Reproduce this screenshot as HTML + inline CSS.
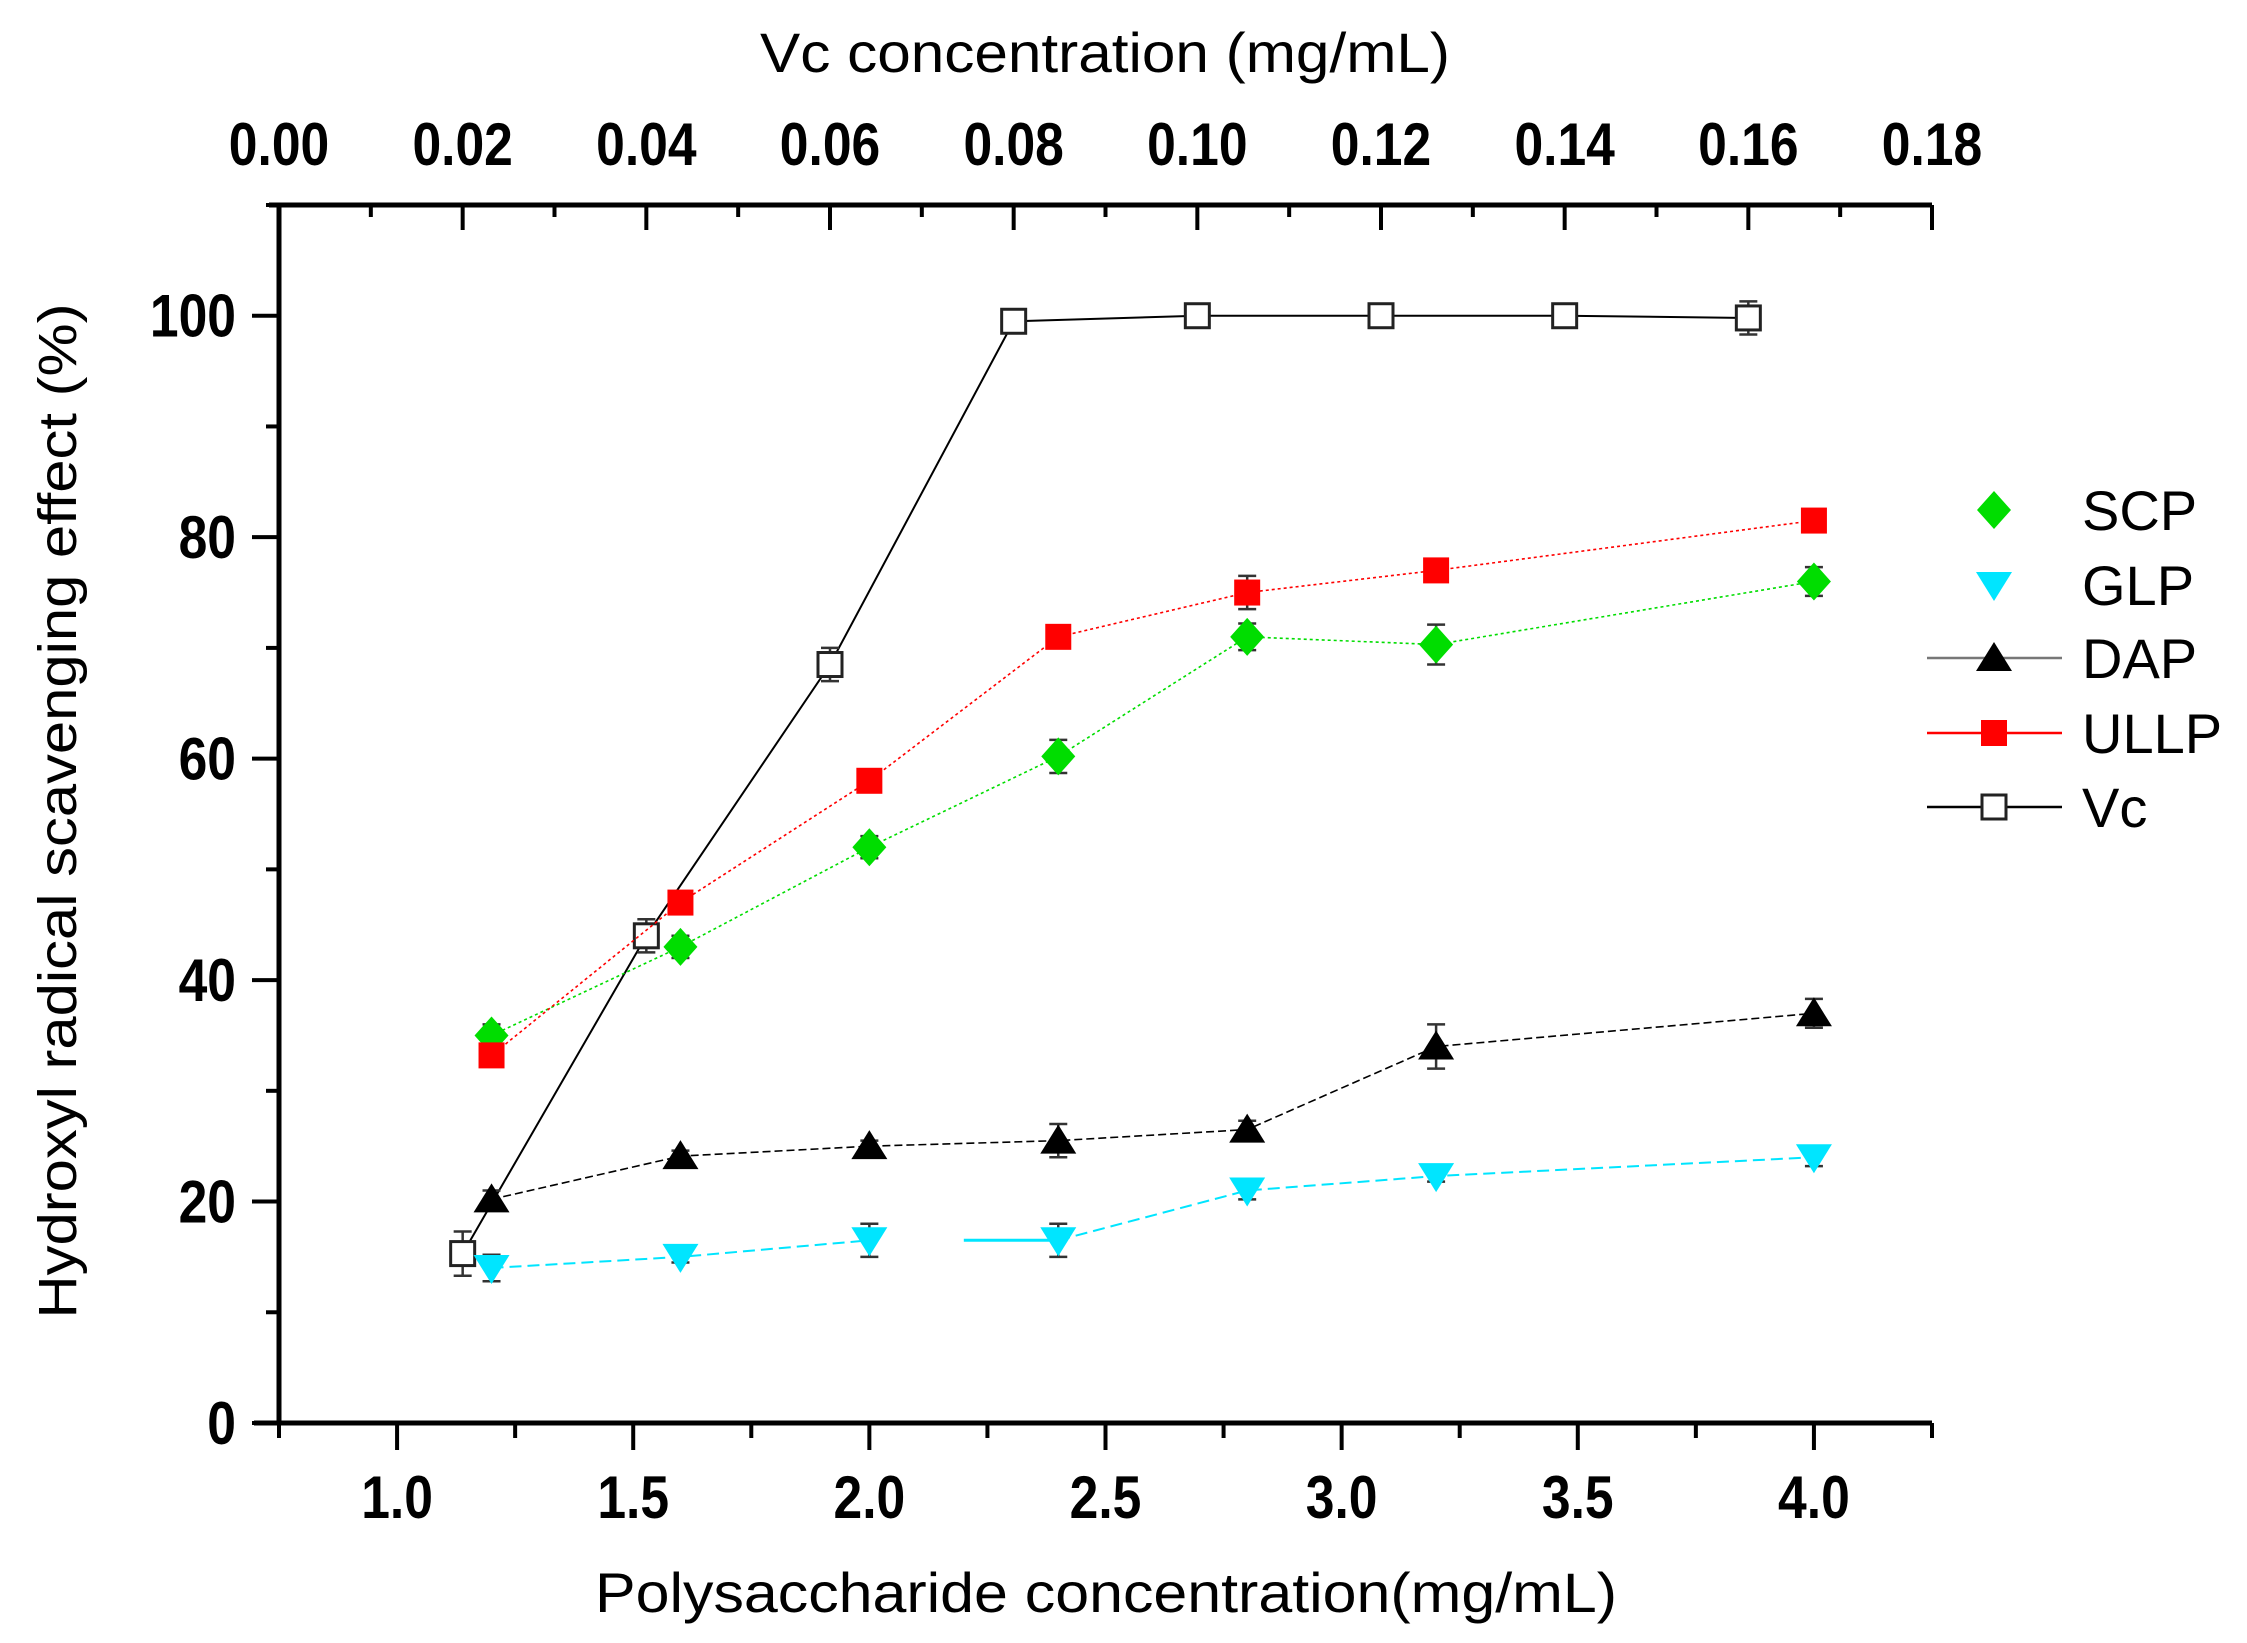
<!DOCTYPE html>
<html><head><meta charset="utf-8"><style>
html,body{margin:0;padding:0;background:#fff;}
svg{display:block;font-family:"Liberation Sans",Arial,sans-serif;}
</style></head><body>
<svg id="chart" width="2247" height="1643" viewBox="0 0 2247 1643" xmlns="http://www.w3.org/2000/svg">
<rect width="2247" height="1643" fill="#fff"/>
<g id="axes"></g>
<g id="series"></g>
<g id="legend"></g>
<text x="1105" y="72" font-size="56" text-anchor="middle" textLength="690" lengthAdjust="spacingAndGlyphs">Vc concentration (mg/mL)</text>
<text x="1106" y="1612" font-size="56" text-anchor="middle" textLength="1022" lengthAdjust="spacingAndGlyphs">Polysaccharide concentration(mg/mL)</text>
<text transform="translate(76,811) rotate(-90)" x="0" y="0" font-size="54" text-anchor="middle" textLength="1015" lengthAdjust="spacingAndGlyphs">Hydroxyl radical scavenging effect (%)</text>
</svg>
<script>
const polyX = [1.2, 1.6, 2.0, 2.4, 2.8, 3.2, 4.0];
const scpY = [35, 43, 52, 60.2, 71, 70.3, 76];
const scpErr = [1, 1, 1, 1.5, 1.2, 1.8, 1.3];
const ullpY = [33.2, 47, 58, 71, 75, 77, 81.5];
const ullpErr = [1, 0.5, 0.5, 0.5, 1.5, 0.5, 0.5];
const dapY = [20.2, 24.1, 25, 25.5, 26.5, 34, 37];
const dapErr = [0.8, 0.5, 0.5, 1.5, 0.8, 2, 1.3];
const glpY = [14, 15, 16.5, 16.5, 21, 22.3, 24];
const glpErr = [1.2, 0.5, 1.5, 1.5, 0.8, 0.5, 0.8];
const vcX = [0.02, 0.04, 0.06, 0.08, 0.10, 0.12, 0.14, 0.16];
const vcY = [15.3, 44, 68.5, 99.5, 100, 100, 100, 99.8];
const vcErr = [2, 1.5, 1.5, 0.3, 1, 1, 1, 1.5];
const bottomTicks = ["1.0","1.5","2.0","2.5","3.0","3.5","4.0"];
const topTicks = ["0.00","0.02","0.04","0.06","0.08","0.10","0.12","0.14","0.16","0.18"];
const yTicks = ["0","20","40","60","80","100"];

const L=279, R=1932, T=205, B=1423;
const xb = v => L + (v-0.75)/(4.25-0.75)*(R-L);
const xt = v => L + v/0.18*(R-L);
const y = v => B - v/110*(B-T);
const NS="http://www.w3.org/2000/svg";
function mk(parent, tag, attrs){const e=document.createElementNS(NS,tag);for(const k in attrs)e.setAttribute(k,attrs[k]);parent.appendChild(e);return e;}

const ax=document.getElementById('axes');
let e;
e=mk(ax,'line',{x1:L,y1:T-2,x2:L,y2:B+2,stroke:'#000','stroke-width':5});


e=mk(ax,'line',{x1:L-25,y1:B,x2:R,y2:B,stroke:'#000','stroke-width':5});


e=mk(ax,'line',{x1:L-10,y1:T,x2:R,y2:T,stroke:'#000','stroke-width':5});


for(let v=0;v<=110;v+=10){const major=v%20===0;
 e=mk(ax,'line',{x1:L-(major?27:13),y1:y(v),x2:L,y2:y(v),stroke:'#000','stroke-width':4});
 
 }
yTicks.forEach(t=>{e=mk(ax,'text',{x:236,y:y(+t)+21,'font-size':60,'font-weight':'bold','text-anchor':'end',transform:`translate(236,0) scale(0.86,1) translate(-236,0)`});
 e.textContent=t;
 
 });
for(let v=0.75;v<=4.2501;v+=0.25){const major=Math.abs(v*2-Math.round(v*2))<1e-6;
 e=mk(ax,'line',{x1:xb(v),y1:B,x2:xb(v),y2:B+(major?27:15),stroke:'#000','stroke-width':4});
 
 }
bottomTicks.forEach(t=>{const cx=xb(+t);e=mk(ax,'text',{x:cx,y:1518,'font-size':60,'font-weight':'bold','text-anchor':'middle',transform:`translate(${cx},0) scale(0.86,1) translate(${-cx},0)`});
 e.textContent=t;
 
 });
for(let i=0;i<=18;i++){const v=i/100;const major=i%2===0;
 e=mk(ax,'line',{x1:xt(v),y1:T,x2:xt(v),y2:T+(major?25:12),stroke:'#000','stroke-width':4});
 
 }
topTicks.forEach(t=>{const cx=xt(+t);e=mk(ax,'text',{x:cx,y:165,'font-size':60,'font-weight':'bold','text-anchor':'middle',transform:`translate(${cx},0) scale(0.86,1) translate(${-cx},0)`});
 e.textContent=t;
 
 });

const sg=document.getElementById('series');
function marker(g,kind,cx,cy,color){
 let m;
 if(kind==='diamond') m=mk(g,'polygon',{points:`${cx},${cy-19} ${cx+17},${cy} ${cx},${cy+19} ${cx-17},${cy}`,fill:color});
 else if(kind==='down') m=mk(g,'polygon',{points:`${cx-18},${cy-13} ${cx+18},${cy-13} ${cx},${cy+16}`,fill:color});
 else if(kind==='up') m=mk(g,'polygon',{points:`${cx-18},${cy+13} ${cx+18},${cy+13} ${cx},${cy-16}`,fill:color});
 else if(kind==='square') m=mk(g,'rect',{x:cx-13,y:cy-13,width:26,height:26,fill:color});
 else m=mk(g,'rect',{x:cx-12,y:cy-12,width:24,height:24,fill:'#fff',stroke:'#222','stroke-width':3});
 return m;
}
function series(name,xs,ys,errs,xf,color,kind,dash,lw){
 const g=mk(sg,'g',{});
 
 
 let pts=xs.map((x,i)=>[xf(x),y(ys[i])]);
 if(name==='glp'){
  const a=pts.slice(0,3).map(p=>p.join(',')).join(' ');
  const b=[[xf(2.2),y(ys[3])],pts[3]].map(p=>p.join(',')).join(' ');
  const c=pts.slice(3).map(p=>p.join(',')).join(' ');
  e=mk(g,'polyline',{points:a,fill:'none',stroke:color,'stroke-width':lw,'stroke-dasharray':dash});
  
  
  e=mk(g,'polyline',{points:b,fill:'none',stroke:color,'stroke-width':lw+1});
  
  
  e=mk(g,'polyline',{points:c,fill:'none',stroke:color,'stroke-width':lw,'stroke-dasharray':dash});
  
  
 } else {
  e=mk(g,'polyline',{points:pts.map(p=>p.join(',')).join(' '),fill:'none',stroke:color,'stroke-width':lw,'stroke-dasharray':dash});
  
  
 }
 xs.forEach((x,i)=>{
  const cx=xf(x),y1=y(ys[i]+errs[i]),y2=y(ys[i]-errs[i]);
  const eg=mk(g,'path',{d:`M${cx},${y1}V${y2}M${cx-9},${y1}H${cx+9}M${cx-9},${y2}H${cx+9}`,stroke:'#333','stroke-width':2.5,fill:'none'});
  
  
  const m=marker(g,kind,cx,y(ys[i]),color);
  
  
 });
}
series('vc',vcX,vcY,vcErr,xt,'#000','open','',2);
series('glp',polyX,glpY,glpErr,xb,'#00e5ff','down','12,6',2);
series('dap',polyX,dapY,dapErr,xb,'#000','up','8,4',1.6);
series('scp',polyX,scpY,scpErr,xb,'#00dd00','diamond','3,3',1.6);
series('ullp',polyX,ullpY,ullpErr,xb,'#ff0000','square','3,3',1.6);

const lg=document.getElementById('legend');
const entries=[['SCP','diamond','#00dd00',510,false],['GLP','down','#00e5ff',585,false],['DAP','up','#000',658,true],['ULLP','square','#ff0000',733,true],['Vc','open','#000',807,true]];
entries.forEach(([lab,kind,color,ly,line])=>{
 const g=mk(lg,'g',{});
 
 
 if(line){
  const lc=kind==='up'?'#777':color;
  mk(g,'line',{x1:1927,y1:ly,x2:2062,y2:ly,stroke:lc,'stroke-width':2.5});
 }
 marker(g,kind,1994,ly,color);
 const t=mk(g,'text',{x:2082,y:ly+20,'font-size':56});
 t.textContent=lab;
});
</script>
</body></html>
